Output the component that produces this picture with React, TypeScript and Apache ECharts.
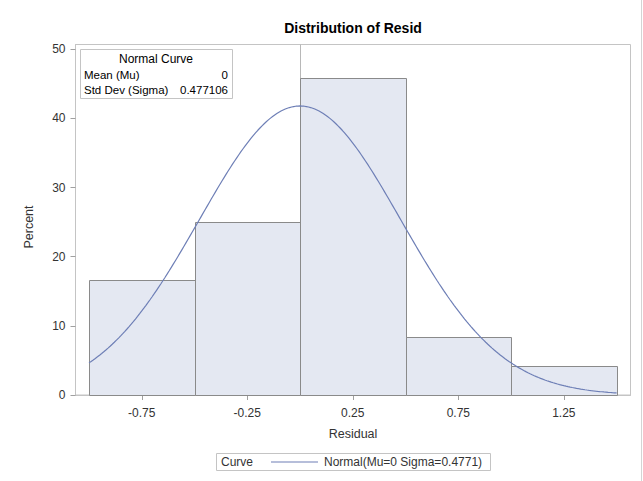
import React, { useEffect, useRef } from "react";
import * as echarts from "echarts";

// Histogram bins of the residuals (left edge, right edge, percent of observations)
const binStarts = [-1.0, -0.5, 0.0, 0.5, 1.0];
const binEnds = [-0.5, 0.0, 0.5, 1.0, 1.5];
const binPercents = [16.67, 25.0, 45.83, 8.33, 4.17];

// Tick labels
const xTicks = [-0.75, -0.25, 0.25, 0.75, 1.25];
const yTicks = [0, 10, 20, 30, 40, 50];

// Fitted normal curve parameters
const mu = 0;
const sigma = 0.477106;
const binWidth = 0.5;
const curveFrom = -1.0;
const curveTo = 1.5;
const curveSteps = 250;

const FONT = "'Liberation Sans', Arial, sans-serif";
const TEXT = "#333333";
const BAR_FILL = "#e4e8f2";
const BAR_EDGE = "#8a8a8a";
const CURVE = "#6e7fb6";
const FRAME = "#c4c4c4";

function normalPercent(x: number): number {
  const z = (x - mu) / sigma;
  return (100 * binWidth * Math.exp(-0.5 * z * z)) / (sigma * Math.sqrt(2 * Math.PI));
}

export default function App() {
  const ref = useRef<HTMLDivElement>(null);

  useEffect(() => {
    if (!ref.current) return;
    const chart = echarts.init(ref.current, undefined, { renderer: "svg" });

    const bars = binStarts.map((s, i) => [s, binEnds[i], binPercents[i]]);
    const curve: number[][] = [];
    for (let i = 0; i <= curveSteps; i++) {
      const x = curveFrom + ((curveTo - curveFrom) * i) / curveSteps;
      curve.push([x, normalPercent(x)]);
    }

    chart.setOption({
      animation: false,
      backgroundColor: "#ffffff",
      textStyle: { fontFamily: FONT },
      grid: {
        left: 75.5,
        right: 12.5,
        top: 44.5,
        bottom: 86,
        show: true,
        borderColor: FRAME,
        borderWidth: 1,
        backgroundColor: "transparent",
      },
      xAxis: {
        type: "value",
        min: -1.064,
        max: 1.566,
        splitLine: { show: false },
        axisLine: { show: true, onZero: false, lineStyle: { color: FRAME } },
        axisTick: {
          show: true,
          length: 5,
          customValues: xTicks,
          lineStyle: { color: "#a0a0a0" },
        },
        axisLabel: {
          customValues: xTicks,
          margin: 12,
          color: TEXT,
          fontSize: 12,
          fontFamily: FONT,
          formatter: (v: number) => v.toFixed(2),
        },
      },
      yAxis: {
        type: "value",
        min: 0,
        max: 50.7,
        splitLine: { show: false },
        axisLine: { show: true, onZero: false, lineStyle: { color: FRAME } },
        axisTick: {
          show: true,
          length: 5,
          customValues: yTicks,
          lineStyle: { color: "#a0a0a0" },
        },
        axisLabel: {
          customValues: yTicks,
          margin: 10,
          color: TEXT,
          fontSize: 12,
          fontFamily: FONT,
        },
      },
      series: [
        {
          type: "custom",
          data: bars,
          encode: { x: [0, 1], y: 2 },
          renderItem: (params: any, api: any) => {
            const x0 = api.value(0);
            const x1 = api.value(1);
            const y = api.value(2);
            const p0 = api.coord([x0, y]);
            const p1 = api.coord([x1, 0]);
            return {
              type: "rect",
              shape: {
                x: Math.round(p0[0]) + 0.5,
                y: Math.round(p0[1]) + 0.5,
                width: Math.round(p1[0]) - Math.round(p0[0]),
                height: Math.round(p1[1]) - Math.round(p0[1]),
              },
              style: { fill: BAR_FILL, stroke: BAR_EDGE, lineWidth: 1 },
            };
          },
          z: 2,
        },
        {
          type: "line",
          data: curve,
          showSymbol: false,
          symbol: "none",
          lineStyle: { color: CURVE, width: 1.2 },
          z: 4,
          markLine: {
            silent: true,
            symbol: "none",
            label: { show: false },
            lineStyle: { color: "#b8b8b8", width: 1, type: "solid" },
            data: [{ xAxis: mu }],
            z: 1,
          },
        },
      ],
      graphic: [
        // Title
        {
          type: "text",
          x: 353,
          y: 28,
          style: {
            text: "Distribution of Resid",
            font: `bold 14px ${FONT}`,
            fill: "#000000",
            align: "center",
            verticalAlign: "middle",
          },
        },
        // Axis titles
        {
          type: "text",
          x: 29,
          y: 227,
          rotation: Math.PI / 2,
          style: {
            text: "Percent",
            font: `12.5px ${FONT}`,
            fill: TEXT,
            align: "center",
            verticalAlign: "middle",
          },
        },
        {
          type: "text",
          x: 353,
          y: 434,
          style: {
            text: "Residual",
            font: `12.5px ${FONT}`,
            fill: TEXT,
            align: "center",
            verticalAlign: "middle",
          },
        },
        // Inset with the curve parameters
        {
          type: "rect",
          shape: { x: 80.5, y: 49.5, width: 152, height: 49 },
          style: { fill: "#ffffff", stroke: FRAME, lineWidth: 1 },
          z: 10,
        },
        {
          type: "text",
          x: 156,
          y: 59,
          z: 11,
          style: {
            text: "Normal Curve",
            font: `12px ${FONT}`,
            fill: "#000000",
            align: "center",
            verticalAlign: "middle",
          },
        },
        {
          type: "text",
          x: 84,
          y: 74.5,
          z: 11,
          style: {
            text: "Mean (Mu)",
            font: `11.5px ${FONT}`,
            fill: "#000000",
            align: "left",
            verticalAlign: "middle",
          },
        },
        {
          type: "text",
          x: 228,
          y: 74.5,
          z: 11,
          style: {
            text: String(mu),
            font: `11.5px ${FONT}`,
            fill: "#000000",
            align: "right",
            verticalAlign: "middle",
          },
        },
        {
          type: "text",
          x: 84,
          y: 90,
          z: 11,
          style: {
            text: "Std Dev (Sigma)",
            font: `11.5px ${FONT}`,
            fill: "#000000",
            align: "left",
            verticalAlign: "middle",
          },
        },
        {
          type: "text",
          x: 228,
          y: 90,
          z: 11,
          style: {
            text: sigma.toFixed(6),
            font: `11.5px ${FONT}`,
            fill: "#000000",
            align: "right",
            verticalAlign: "middle",
          },
        },
        // Bottom legend
        {
          type: "rect",
          shape: { x: 216.5, y: 453.5, width: 274, height: 17 },
          style: { fill: "#ffffff", stroke: FRAME, lineWidth: 1 },
        },
        {
          type: "text",
          x: 221,
          y: 462,
          style: {
            text: "Curve",
            font: `12px ${FONT}`,
            fill: TEXT,
            align: "left",
            verticalAlign: "middle",
          },
        },
        {
          type: "line",
          shape: { x1: 271, y1: 462, x2: 318, y2: 462 },
          style: { stroke: CURVE, lineWidth: 1.2 },
        },
        {
          type: "text",
          x: 324,
          y: 462,
          style: {
            text: `Normal(Mu=${mu} Sigma=${sigma.toFixed(4)})`,
            font: `12px ${FONT}`,
            fill: TEXT,
            align: "left",
            verticalAlign: "middle",
          },
        },
        // Outer image edge
        {
          type: "line",
          shape: { x1: 641.5, y1: 0, x2: 641.5, y2: 481 },
          style: { stroke: "#d4d4d4", lineWidth: 1 },
        },
      ],
    });

    return () => chart.dispose();
  }, []);

  return (
    <div
      ref={ref}
      style={{ position: "fixed", left: 0, top: 0, width: 643, height: 481 }}
    />
  );
}
